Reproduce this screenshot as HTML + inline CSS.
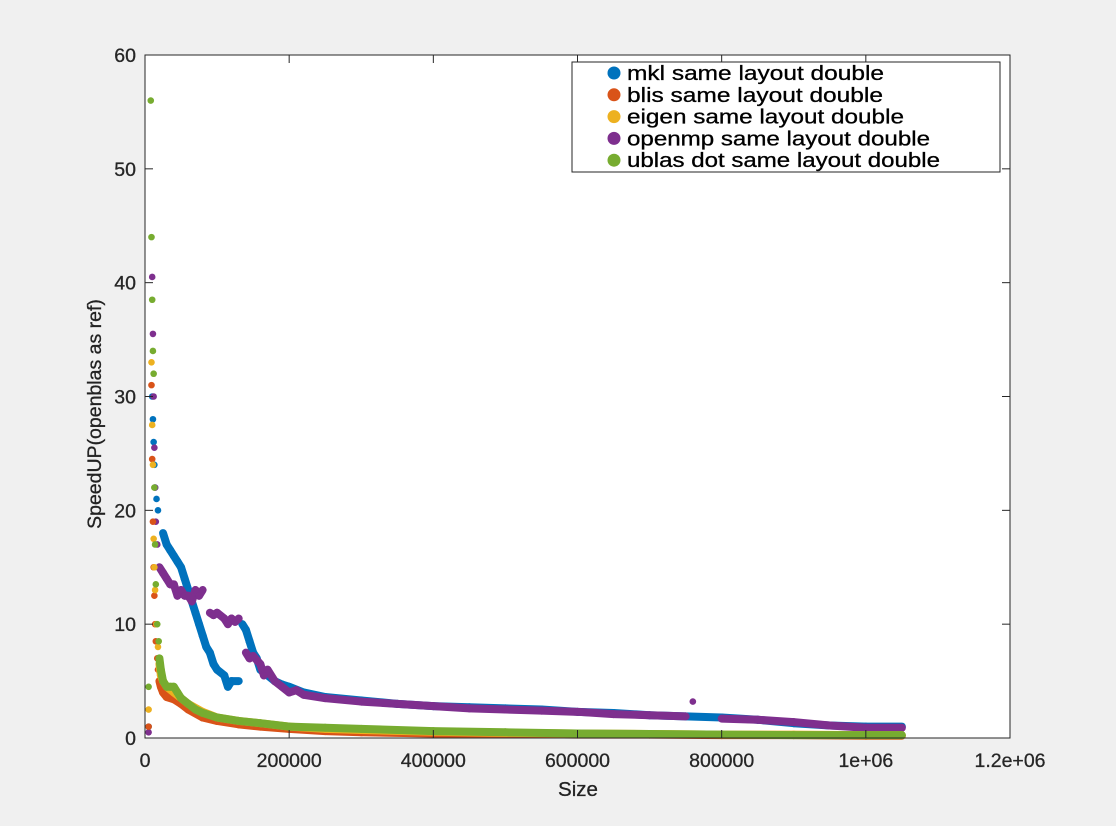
<!DOCTYPE html>
<html><head><meta charset="utf-8"><style>
body{margin:0;background:#f0f0f0;}
svg{display:block;font-family:"Liberation Sans",sans-serif;}
</style></head><body>
<svg id="chart" width="1116" height="826">
<rect x="145" y="55" width="865" height="683" fill="#fff"/>
<g id="marks"></g>
<g id="axes"></g>
<text x="578" y="796" font-size="20.5" text-anchor="middle" fill="#222" stroke="#222" stroke-width="0.3">Size</text>
<text transform="translate(101,414) rotate(-90)" font-size="19.5" text-anchor="middle" fill="#222" stroke="#222" stroke-width="0.3">SpeedUP(openblas as ref)</text>
<g id="legend"></g>
</svg>
<script>
const xTicks=[0,200000,400000,600000,800000,1000000,1200000];
const xTickLabels=["0","200000","400000","600000","800000","1e+06","1.2e+06"];
const yTicks=[0,10,20,30,40,50,60];
const seriesNames=["mkl same layout double","blis same layout double","eigen same layout double","openmp same layout double","ublas dot same layout double"];
const seriesColors=["#0072bd","#d95319","#edb120","#7e2f8e","#77ac30"];
// x in thousands
const mklX=[5,10,11,12,13,14,16,18,25,30,35,40,45,50,55,60,65,70,75,80,85,90,95,100,110,115,120,130,135,140,145,150,155,160,170,180,190,200,220,250,300,350,400,450,500,550,600,650,700,750,800,850,900,950,1000,1050];
const mklY=[1,30,28,26,24,22,21,20,18,17,16.5,16,15.5,15,14,13,12,11,10,9,8,7.5,6.5,6,5.5,4.5,5,5,10,9.5,8.5,7.5,7,6,5.5,5,4.7,4.5,4,3.6,3.3,3,2.8,2.7,2.6,2.5,2.3,2.2,2,1.9,1.8,1.6,1.3,1.1,1,1];
const blisX=[5,9,10,11,12,13,14,15,17,18,20,22,25,30,40,50,60,80,100,130,160,200,250,300,400,500,600,700,800,900,1000,1050];
const blisY=[1,31,24.5,19,15,12.5,10,8.5,7,6,5,4.5,4,3.6,3.4,3,2.5,1.8,1.5,1.2,1,0.8,0.6,0.5,0.4,0.35,0.3,0.3,0.25,0.25,0.2,0.2];
const eigenX=[5,9,10,11,12,13,14,16,18,20,22,25,30,40,50,60,80,100,130,160,200,250,300,400,500,600,700,800,900,1000,1050];
const eigenY=[2.5,33,27.5,24,17.5,15,13,10,8,6.5,5.5,5,4.5,4,3.5,3,2.3,1.8,1.5,1.3,1,0.8,0.7,0.55,0.45,0.4,0.35,0.3,0.3,0.25,0.25];
const ompX=[5,10,11,12,13,14,15,17,20,25,30,35,40,45,50,55,60,65,70,75,80,90,95,100,110,115,120,125,130,140,145,150,160,165,170,180,190,200,210,220,250,300,350,400,450,500,550,600,650,700,750,760,800,850,900,950,1000,1050];
const ompY=[0.5,40.5,35.5,30,25.5,22,19,17,15,14.5,14,13.5,13.5,12.5,13,12.5,12.5,12,13,12.5,13,11,10.8,11,10.5,10,10.5,10.2,10.5,7.5,7,7.2,6.5,5.5,6,5,4.5,4,4.2,3.8,3.5,3.2,3,2.8,2.6,2.5,2.4,2.3,2.1,2,1.9,3.2,1.7,1.6,1.4,1.1,0.9,0.9];
const ublasX=[5,8,9,10,11,12,13,14,15,17,19,20,22,25,30,35,40,45,50,60,70,80,100,130,160,200,250,300,400,500,600,700,800,900,1000,1050];
const ublasY=[4.5,56,44,38.5,34,32,22,17,13.5,10,8.5,7,6,5,4.5,4.5,4.5,4,3.5,3,2.5,2.2,1.8,1.5,1.3,1,0.9,0.8,0.6,0.5,0.4,0.35,0.3,0.25,0.25,0.25];
const allX=[mklX,blisX,eigenX,ompX,ublasX];
const allY=[mklY,blisY,eigenY,ompY,ublasY];
const legendWidths=[257,256,277,303,313];
const NS="http://www.w3.org/2000/svg";
const L=145,R=1010,T=55,B=738;
const sx=v=>L+v/1200000*(R-L);
const sy=v=>B-v/60*(B-T);
function mk(t,a,p){const e=document.createElementNS(NS,t);for(const k in a)e.setAttribute(k,a[k]);p.appendChild(e);return e;}
const marks=document.getElementById('marks');
const order=[0,3,1,2,4];
order.forEach(s=>{
  const g=mk('g',{},marks);
  
  
  const xs=allX[s],ys=allY[s];
  for(let i=1;i<xs.length;i++){
    const x1=sx(xs[i-1]*1000),y1=sy(ys[i-1]),x2=sx(xs[i]*1000),y2=sy(ys[i]);
    if(xs[i-1]>=20 && Math.abs(y2-y1)<14){
      const ln=mk('line',{x1:x1,y1:y1,x2:x2,y2:y2,stroke:seriesColors[s],'stroke-width':8,'stroke-linecap':'round'},g);
      
      
    }
  }
  xs.forEach((x,i)=>{
    const c=mk('circle',{cx:sx(x*1000),cy:sy(ys[i]),r:3.3,fill:seriesColors[s]},g);
    
    
  });
});
const axes=document.getElementById('axes');
mk('rect',{x:L,y:T,width:R-L,height:B-T,fill:'none',stroke:'#262626','stroke-width':1},axes);
xTicks.forEach((v,i)=>{
  const x=sx(v);
  mk('line',{x1:x,x2:x,y1:B,y2:B-8,stroke:'#262626'},axes);
  mk('line',{x1:x,x2:x,y1:T,y2:T+8,stroke:'#262626'},axes);
  const t=mk('text',{x:x,y:B+29,'font-size':19.5,'text-anchor':'middle',fill:'#262626',stroke:'#262626','stroke-width':0.3},axes);
  t.textContent=xTickLabels[i];
  
  
});
yTicks.forEach(v=>{
  const y=sy(v);
  mk('line',{x1:L,x2:L+8,y1:y,y2:y,stroke:'#262626'},axes);
  mk('line',{x1:R,x2:R-8,y1:y,y2:y,stroke:'#262626'},axes);
  const t=mk('text',{x:L-9,y:y+7,'font-size':19.5,'text-anchor':'end',fill:'#262626',stroke:'#262626','stroke-width':0.3},axes);
  t.textContent=v;
  
  
});
const lg=document.getElementById('legend');
mk('rect',{x:572,y:62,width:428,height:110,fill:'#fff',stroke:'#262626'},lg);
seriesNames.forEach((n,i)=>{
  const y=73+i*21.8;
  const c=mk('circle',{cx:614,cy:y,r:6.5,fill:seriesColors[i]},lg);
  
  
  const t=mk('text',{x:627,y:y+7,'font-size':20,fill:'#000',stroke:'#000','stroke-width':0.3,textLength:legendWidths[i],lengthAdjust:'spacingAndGlyphs'},lg);
  t.textContent=n;
  
  
});
</script>
</body></html>
